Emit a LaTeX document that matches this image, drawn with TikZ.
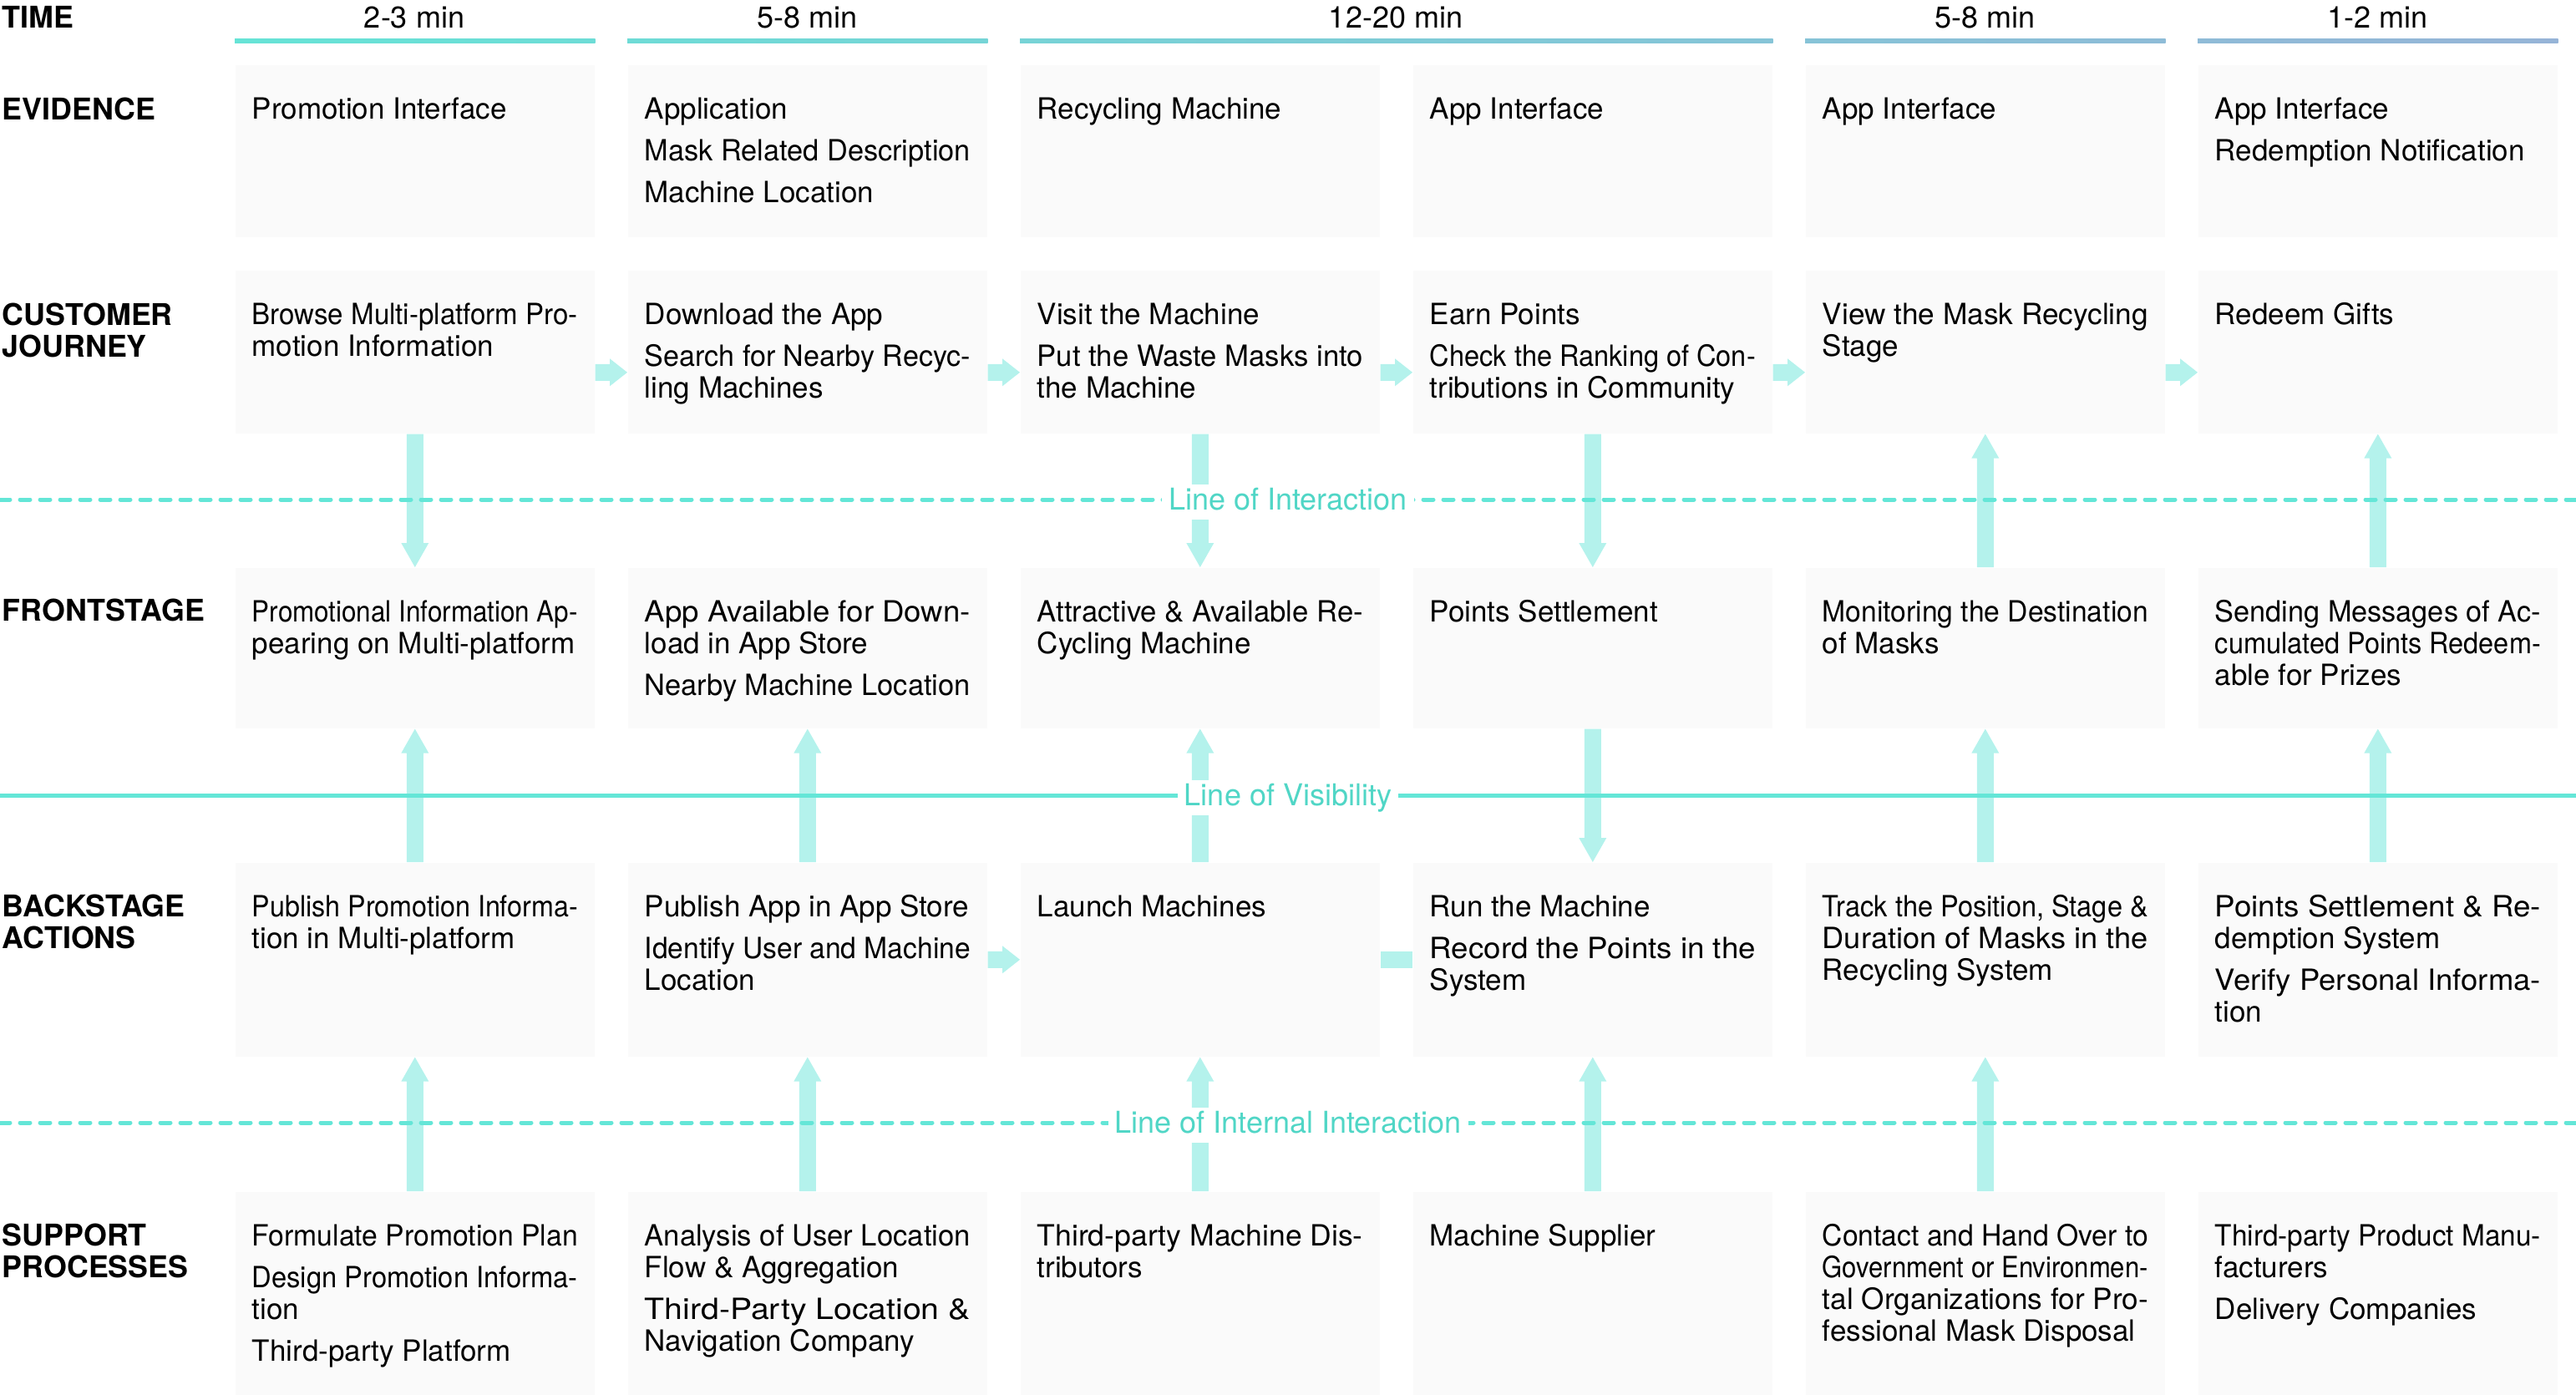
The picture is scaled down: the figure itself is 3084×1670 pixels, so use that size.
\documentclass[tikz,border=0pt]{standalone}
\usepackage{fontspec}
\setmainfont{TeX Gyre Heros}
\usepackage{graphicx}
\usetikzlibrary{calc}

\definecolor{boxcol}{RGB}{250,250,250}
\definecolor{linecol}{RGB}{100,230,215}
\definecolor{labcol}{RGB}{80,214,198}
\definecolor{arrcol}{RGB}{180,242,236}
\definecolor{tlA}{RGB}{102,227,214}
\definecolor{tlB}{RGB}{150,180,215}

\newlength\lnw \setlength\lnw{97.5pt}
\newsavebox\lnbox
\newcommand\jln[1]{\noindent\resizebox{\lnw}{\height}{#1}\par}
\newcommand\fln[1]{\sbox\lnbox{#1}\noindent\ifdim\wd\lnbox>\lnw\resizebox{\lnw}{\height}{\usebox\lnbox}\else\usebox\lnbox\fi\par}
\newcommand\pgap{\vspace{3pt}}
\newcommand\cell[1]{\vtop{\hsize=\lnw\parindent=0pt\parskip=0pt\leftskip=0pt\rightskip=0pt plus 1fil #1}}
\newcommand\ctext[2]{\node[txt] (#1t) at ([shift={(20,65)}]#1.north west) {\cell{#2}};}
\newcommand\arrD[2]{\fill[arrcol] ($(#1)+(-10,0)$) -- ($(#2)+(-10,-29)$) -- ($(#2)+(-16.5,-29)$) -- (#2) -- ($(#2)+(16.5,-29)$) -- ($(#2)+(10,-29)$) -- ($(#1)+(10,0)$) -- cycle;}
\newcommand\arrU[2]{\fill[arrcol] ($(#1)+(-10,0)$) -- ($(#2)+(-10,29)$) -- ($(#2)+(-16.5,29)$) -- (#2) -- ($(#2)+(16.5,29)$) -- ($(#2)+(10,29)$) -- ($(#1)+(10,0)$) -- cycle;}
\newcommand\arrR[2]{\fill[arrcol] ($(#1)+(0,-10)$) -- ($(#2)+(-21,-10)$) -- ($(#2)+(-21,-16.5)$) -- (#2) -- ($(#2)+(-21,16.5)$) -- ($(#2)+(-21,10)$) -- ($(#1)+(0,10)$) -- cycle;}

\begin{document}
\begin{tikzpicture}[x=0.25pt,y=-0.25pt,
  cellbox/.style={fill=boxcol,draw=none,inner sep=0pt,minimum width=107.5pt,anchor=north west},
  txt/.style={anchor=base west,inner sep=0pt,font=\fontsize{8.75pt}{9.5pt}\selectfont},
  rowlab/.style={anchor=base west,inner sep=0pt,font=\bfseries\fontsize{8.95pt}{9.5pt}\selectfont},
  tlab/.style={anchor=base,inner sep=0pt,font=\fontsize{9pt}{10pt}\selectfont},
  llab/.style={anchor=base,fill=white,inner xsep=2pt,inner ysep=1pt,text=labcol,
    text height=6.6pt,text depth=1.9pt,font=\fontsize{9pt}{10pt}\selectfont},
  dline/.style={draw=linecol,line width=1.25pt,dash pattern=on 3pt off 3pt,line cap=round},
  sline/.style={draw=linecol,line width=1.25pt}]
\useasboundingbox (0,0) rectangle (3084,1670);

% ---------- boxes
\foreach \r/\y/\h in {ev/77/51.5pt,cj/323/48.75pt,fs/679/48pt,bs/1032/58pt,sp/1426/61pt}{
  \foreach \c/\x in {1/281,2/751,3/1221,4/1691,5/2161,6/2631}{
    \node[cellbox,minimum height=\h] (\r\c) at (\x,\y) {};
  }
}

% ---------- time line
\shade[left color=tlA,right color=tlA!85!tlB] ($(ev1.north west)+(0,-31)$) rectangle ($(ev1.north east)+(0,-26)$);
\shade[left color=tlA!83!tlB,right color=tlA!68!tlB] ($(ev2.north west)+(0,-31)$) rectangle ($(ev2.north east)+(0,-26)$);
\shade[left color=tlA!66!tlB,right color=tlA!34!tlB] ($(ev3.north west)+(0,-31)$) rectangle ($(ev4.north east)+(0,-26)$);
\shade[left color=tlA!32!tlB,right color=tlA!17!tlB] ($(ev5.north west)+(0,-31)$) rectangle ($(ev5.north east)+(0,-26)$);
\shade[left color=tlA!15!tlB,right color=tlB] ($(ev6.north west)+(0,-31)$) rectangle ($(ev6.north east)+(0,-26)$);
\node[tlab] (t1) at (496,34) {2-3 min};
\node[tlab] (t2) at (966,34) {5-8 min};
\node[tlab] (t3) at (1671,34) {12-20 min};
\node[tlab] (t4) at (2376,34) {5-8 min};
\node[tlab] (t5) at (2846,34) {1-2 min};

% ---------- row labels
\node[rowlab] (lTime) at (2,34) {TIME};
\node[rowlab] (lEv) at (2,143) {EVIDENCE};
\node[rowlab] (lCj) at (2,389) {\vtop{\hbox{CUSTOMER}\hbox{JOURNEY}}};
\node[rowlab] (lFs) at (2,743) {FRONTSTAGE};
\node[rowlab] (lBs) at (2,1097) {\vtop{\hbox{BACKSTAGE}\hbox{ACTIONS}}};
\node[rowlab] (lSp) at (2,1491) {\vtop{\hbox{SUPPORT}\hbox{PROCESSES}}};

% ---------- texts
\ctext{ev1}{\fln{Promotion Interface}}
\ctext{ev2}{\fln{Application}\pgap\fln{Mask Related Description}\pgap\fln{Machine Location}}
\ctext{ev3}{\fln{Recycling Machine}}
\ctext{ev4}{\fln{App Interface}}
\ctext{ev5}{\fln{App Interface}}
\ctext{ev6}{\fln{App Interface}\pgap\fln{Redemption Notification}}

\ctext{cj1}{\jln{Browse Multi-platform Pro-}\fln{motion Information}}
\ctext{cj2}{\fln{Download the App}\pgap\jln{Search for Nearby Recyc-}\fln{ling Machines}}
\ctext{cj3}{\fln{Visit the Machine}\pgap\jln{Put the Waste Masks into}\fln{the Machine}}
\ctext{cj4}{\fln{Earn Points}\pgap\jln{Check the Ranking of Con-}\fln{tributions in Community}}
\ctext{cj5}{\jln{View the Mask Recycling}\fln{Stage}}
\ctext{cj6}{\fln{Redeem Gifts}}

\ctext{fs1}{\jln{Promotional Information Ap-}\fln{pearing on Multi-platform}}
\ctext{fs2}{\jln{App Available for Down-}\fln{load in App Store}\pgap\fln{Nearby Machine Location}}
\ctext{fs3}{\jln{Attractive \& Available Re-}\fln{Cycling Machine}}
\ctext{fs4}{\fln{Points Settlement}}
\ctext{fs5}{\jln{Monitoring the Destination}\fln{of Masks}}
\ctext{fs6}{\jln{Sending Messages of Ac-}\jln{cumulated Points Redeem-}\fln{able for Prizes}}

\ctext{bs1}{\jln{Publish Promotion Informa-}\fln{tion in Multi-platform}}
\ctext{bs2}{\fln{Publish App in App Store}\pgap\jln{Identify User and Machine}\fln{Location}}
\ctext{bs3}{\fln{Launch Machines}}
\ctext{bs4}{\fln{Run the Machine}\pgap\jln{Record the Points in the}\fln{System}}
\ctext{bs5}{\jln{Track the Position, Stage \&}\jln{Duration of Masks in the}\fln{Recycling System}}
\ctext{bs6}{\jln{Points Settlement \& Re-}\fln{demption System}\pgap\jln{Verify Personal Informa-}\fln{tion}}

\ctext{sp1}{\fln{Formulate Promotion Plan}\pgap\jln{Design Promotion Informa-}\fln{tion}\pgap\fln{Third-party Platform}}
\ctext{sp2}{\jln{Analysis of User Location}\fln{Flow \& Aggregation}\pgap\jln{Third-Party Location \&}\fln{Navigation Company}}
\ctext{sp3}{\jln{Third-party Machine Dis-}\fln{tributors}}
\ctext{sp4}{\fln{Machine Supplier}}
\ctext{sp5}{\jln{Contact and Hand Over to}\jln{Government or Environmen-}\jln{tal Organizations for Pro-}\fln{fessional Mask Disposal}}
\ctext{sp6}{\jln{Third-party Product Manu-}\fln{facturers}\pgap\fln{Delivery Companies}}

% ---------- vertical arrows
\arrD{cj1.south}{fs1.north}
\arrD{cj3.south}{fs3.north}
\arrD{cj4.south}{fs4.north}
\arrU{fs5.north}{cj5.south}
\arrU{fs6.north}{cj6.south}

\arrU{bs1.north}{fs1.south}
\arrU{bs2.north}{fs2.south}
\arrU{bs3.north}{fs3.south}
\arrD{fs4.south}{bs4.north}
\arrU{bs5.north}{fs5.south}
\arrU{bs6.north}{fs6.south}

\arrU{sp1.north}{bs1.south}
\arrU{sp2.north}{bs2.south}
\arrU{sp3.north}{bs3.south}
\arrU{sp4.north}{bs4.south}
\arrU{sp5.north}{bs5.south}

% ---------- horizontal arrows
\foreach \i/\j in {1/2,2/3,3/4,4/5,5/6}{
  \arrR{[yshift=-6.125pt]cj\i.east}{[yshift=-6.125pt]cj\j.west}
}
\arrR{bs2.east}{bs3.west}
\fill[arrcol] ($(bs3.east)+(0,-10)$) rectangle ($(bs4.west)+(0,10)$);

% ---------- lines
\coordinate (loiW) at (0,598);   \coordinate (loiE) at (3084,598);
\coordinate (lovW) at (0,952);   \coordinate (lovE) at (3084,952);
\coordinate (liiW) at (0,1344);  \coordinate (liiE) at (3084,1344);
\draw[dline] (loiW) -- (loiE);
\draw[sline] (lovW) -- (lovE);
\draw[dline] (liiW) -- (liiE);
\node[llab] (loi) at (1542,610) {Line of Interaction};
\node[llab] (lov) at (1542,964) {Line of Visibility};
\node[llab] (lii) at (1542,1356) {Line of Internal Interaction};
\end{tikzpicture}
\end{document}
